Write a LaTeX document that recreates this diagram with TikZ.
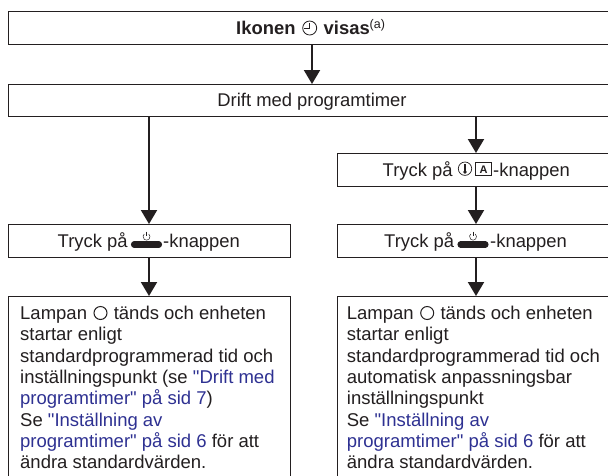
\documentclass[tikz,border=0pt]{standalone}
\usepackage{fontspec}
\newfontfamily\plainf{Liberation Sans}
\usetikzlibrary{arrows.meta,calc}
\definecolor{ink}{HTML}{231F20}
\definecolor{linkb}{HTML}{2E3192}
\newcommand{\lk}[1]{\textcolor{linkb}{#1}}
\tikzset{
  x=1pt,y=-1pt,
  flowbox/.style={draw=ink,line width=1pt,rectangle,inner sep=0pt,text=ink},
  txt/.style={text=ink,font=\plainf\fontsize{18.4}{20}\selectfont,inner sep=0pt},
  para/.style={text=ink,font=\plainf\fontsize{18.5}{21.3}\selectfont,inner sep=0pt,align=left,anchor=north west},
  flow/.style={draw=ink,line width=2pt,-{Triangle[length=14pt,width=16pt]}},
  icon/.style={draw=ink,line width=0.7pt},
  pwrbar/.style={draw=ink,line width=6.5pt,line cap=round},
}
\newcommand{\pwricon}[1]{%
  \draw[pwrbar] ($(#1)+(-12.3,0)$) -- ($(#1)+(12.3,0)$);
  \draw[icon,line width=0.5pt] ($(#1)+(2.25,-10.5)$) arc[start angle=-50,end angle=230,radius=3.5];
  \draw[icon,line width=0.5pt] ($(#1)+(0,-12.8)$) -- ($(#1)+(0,-8.3)$);
}
\begin{document}
\begin{tikzpicture}
\useasboundingbox (0,0) rectangle (608,475);
\clip (0,0) rectangle (608,475);
\fill[white] (0,0) rectangle (608,475);

\node[flowbox,minimum width=608pt,minimum height=33pt] (top) at (312,27.5) {};
\node[flowbox,minimum width=608pt,minimum height=32pt] (drift) at (312,100) {};
\node[flowbox,minimum width=279pt,minimum height=33pt] (rpress) at (476.5,169.5) {};
\node[flowbox,minimum width=282pt,minimum height=33pt] (lon) at (149,240.5) {};
\node[flowbox,minimum width=279pt,minimum height=33pt] (ron) at (476.5,240.5) {};
\coordinate (lbl) at (8,476);
\coordinate (lbr) at (290,476);
\coordinate (ltl) at (8,296);
\coordinate (ltr) at (290,296);
\coordinate (rbl) at (337,476);
\coordinate (rbr) at (616,476);
\coordinate (rtl) at (337,296);
\coordinate (rtr) at (616,296);
\draw[draw=ink,line width=1pt] (lbl) -- (ltl) -- (ltr) -- (lbr);
\draw[draw=ink,line width=1pt] (rbl) -- (rtl) -- (rtr) -- (rbr);
\coordinate (lboxtop) at (149,296);
\coordinate (rboxtop) at (476,296);

% top text
\node[txt,anchor=base west] (toptxt) at (236,34) {\textbf{Ikonen}};
\draw[icon,line width=0.8pt] (309.7,28) circle[radius=7];
\draw[icon,line width=0.8pt] (309.7,23) -- (309.7,28) -- (304,28);
\node[txt,anchor=base west] (toptxt2) at (323.5,34) {\textbf{visas}\raisebox{6pt}{\fontsize{12.5}{14}\selectfont (a)}};
\node[txt,anchor=base] (drifttxt) at (312,106) {Drift med programtimer};

% connectors
\draw[flow] (312,44) -- (312,84);
\draw[flow] (149,116) -- (149,224);
\draw[flow] (476,116) -- (476,153);
\draw[flow] (476,186) -- (476,224);
\draw[flow] (149,257) -- (lboxtop);
\draw[flow] (476,257) -- (rboxtop);

% right press text
\node[txt,anchor=base west] (rp1) at (382.5,176) {Tryck på};
\draw[icon] (465,168.7) circle[radius=6.7];
\fill[ink] (464,164) rectangle (466,171);
\fill[ink] (465,172) circle[radius=1.8];
\draw[icon] (475.5,162.5) rectangle (491.5,175.5);
\node[txt,anchor=center,font=\plainf\bfseries\fontsize{11}{12}\selectfont] (rpa) at (483.5,169.5) {A};
\node[txt,anchor=base west] (rp2) at (493,176) {-knappen};

% power rows
\node[txt,anchor=base west] (lt1) at (57.5,247) {Tryck på};
\coordinate (lp) at (146.5,244.5);
\pwricon{lp}
\node[txt,anchor=base west] (lt2) at (163,247) {-knappen};
\node[txt,anchor=base west] (rt1) at (384,247) {Tryck på};
\coordinate (rp) at (473,244.5);
\pwricon{rp}
\node[txt,anchor=base west] (rt2) at (490,247) {-knappen};

% paragraphs
\node[para] (lpara) at (20,306) {Lampan \hspace{16.5pt} tänds och enheten\\startar enligt\\standardprogrammerad tid och\\inställningspunkt (se \lk{"Drift med}\\\lk{programtimer" på sid 7})\\Se \lk{"Inställning av}\\\lk{programtimer" på sid 6} för att\\ändra standardvärden.};
\draw[draw=ink,line width=1pt] (100.5,313) circle[radius=6.5];
\node[para] (rpara) at (346.7,306) {Lampan \hspace{16.5pt} tänds och enheten\\startar enligt\\standardprogrammerad tid och\\automatisk anpassningsbar\\inställningspunkt\\Se \lk{"Inställning av}\\\lk{programtimer" på sid 6} för att\\ändra standardvärden.};
\draw[draw=ink,line width=1pt] (427.2,313) circle[radius=6.5];
\end{tikzpicture}
\end{document}
